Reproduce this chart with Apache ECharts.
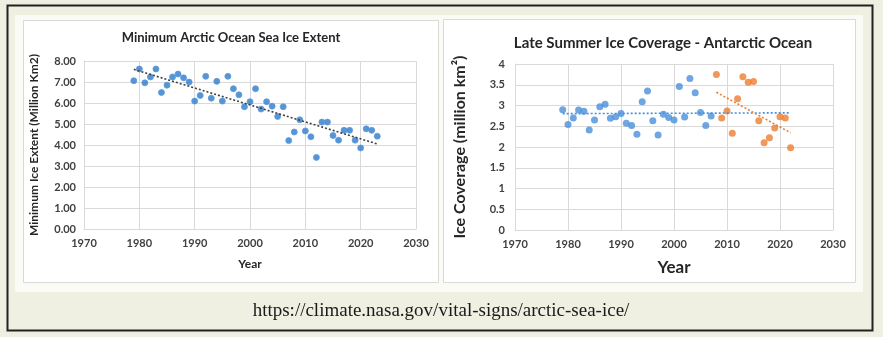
<!DOCTYPE html>
<html>
<head>
<meta charset="utf-8">
<script src="https://cdn.jsdelivr.net/npm/echarts@6/dist/echarts.min.js"></script>
<style>
  html, body { margin: 0; padding: 0; background: #efefe2; }
  #main { width: 883px; height: 337px; }
</style>
</head>
<body>
<div id="main"></div>
<script>
// ---- Data ----
const xTicks = [1970, 1980, 1990, 2000, 2010, 2020, 2030];

const arcticYears = [1979, 1980, 1981, 1982, 1983, 1984, 1985, 1986, 1987, 1988, 1989,
  1990, 1991, 1992, 1993, 1994, 1995, 1996, 1997, 1998, 1999,
  2000, 2001, 2002, 2003, 2004, 2005, 2006, 2007, 2008, 2009,
  2010, 2011, 2012, 2013, 2014, 2015, 2016, 2017, 2018, 2019,
  2020, 2021, 2022, 2023];
const arcticExtent = [7.06, 7.62, 6.96, 7.24, 7.62, 6.50, 6.85, 7.24, 7.38, 7.20, 7.00,
  6.09, 6.36, 7.27, 6.23, 7.03, 6.09, 7.27, 6.68, 6.39, 5.82,
  6.06, 6.68, 5.71, 6.06, 5.85, 5.36, 5.82, 4.21, 4.62, 5.20,
  4.67, 4.39, 3.41, 5.09, 5.09, 4.45, 4.23, 4.70, 4.70, 4.23,
  3.86, 4.77, 4.70, 4.42];

const antarcticYearsEarly = [1979, 1980, 1981, 1982, 1983, 1984, 1985, 1986, 1987, 1988, 1989,
  1990, 1991, 1992, 1993, 1994, 1995, 1996, 1997, 1998, 1999,
  2000, 2001, 2002, 2003, 2004, 2005, 2006, 2007];
const antarcticEarly = [2.90, 2.54, 2.70, 2.89, 2.86, 2.41, 2.65, 2.97, 3.03, 2.69, 2.73,
  2.81, 2.57, 2.52, 2.31, 3.09, 3.35, 2.63, 2.29, 2.79, 2.71,
  2.65, 3.46, 2.72, 3.65, 3.31, 2.83, 2.52, 2.75];

const antarcticYearsLate = [2008, 2009, 2010, 2011, 2012, 2013, 2014, 2015, 2016, 2017,
  2018, 2019, 2020, 2021, 2022];
const antarcticLate = [3.75, 2.70, 2.87, 2.33, 3.16, 3.69, 3.56, 3.58, 2.63, 2.10,
  2.22, 2.46, 2.73, 2.70, 1.98];

// ---- Helpers ----
function pairs(xs, ys) { return xs.map((x, i) => [x, ys[i]]); }
function trend(xs, ys) {
  const n = xs.length;
  const mx = xs.reduce((a, b) => a + b, 0) / n;
  const my = ys.reduce((a, b) => a + b, 0) / n;
  let sxy = 0, sxx = 0;
  for (let i = 0; i < n; i++) { sxy += (xs[i] - mx) * (ys[i] - my); sxx += (xs[i] - mx) ** 2; }
  const b = sxy / sxx, a = my - b * mx;
  const x0 = xs[0], x1 = xs[n - 1];
  return [[x0, a + b * x0], [x1, a + b * x1]];
}

const allAntYears = antarcticYearsEarly.concat(antarcticYearsLate);
const allAnt = antarcticEarly.concat(antarcticLate);

const FONT = 'Lato, "Open Sans", sans-serif';
const LABEL = '#404040';
const GRID = '#d9d9d9';
const BLUE = '#2b7bcc';
const BLUE2 = '#4a90d9';
const ORANGE = '#ed7d31';

function xAxisCfg(gridIndex, gap, nameSize) {
  return {
    gridIndex, type: 'value', min: 1970, max: 2030, interval: 10,
    name: 'Year', nameLocation: 'middle', nameGap: gap,
    nameTextStyle: { fontFamily: FONT, fontWeight: 'bold', fontSize: nameSize, color: '#262626' },
    axisLine: { show: true, lineStyle: { color: GRID } },
    axisTick: { show: false },
    axisLabel: { fontFamily: FONT, fontWeight: 'bold', fontSize: 11, color: LABEL, margin: 9,
      formatter: v => String(v) },
    splitLine: { show: true, lineStyle: { color: GRID } }
  };
}

const chart = echarts.init(document.getElementById('main'), null, { renderer: 'canvas' });
chart.setOption({
  backgroundColor: '#efefe2',
  animation: false,
  grid: [
    { left: 84, top: 61, width: 332, height: 168 },
    { left: 515, top: 64, width: 318, height: 166 }
  ],
  xAxis: [xAxisCfg(0, 29, 12), xAxisCfg(1, 29, 17)],
  yAxis: [
    {
      gridIndex: 0, type: 'value', min: 0, max: 8, interval: 1,
      name: 'Minimum Ice Extent (Million Km2)', nameLocation: 'middle', nameGap: 44, nameRotate: 90,
      nameTextStyle: { fontFamily: FONT, fontWeight: 'bold', fontSize: 12, color: '#262626' },
      axisLine: { show: true, lineStyle: { color: GRID } },
      axisTick: { show: false },
      axisLabel: { fontFamily: FONT, fontWeight: 'bold', fontSize: 11, color: LABEL, margin: 8,
        formatter: v => v.toFixed(2) },
      splitLine: { show: true, lineStyle: { color: GRID } }
    },
    {
      gridIndex: 1, type: 'value', min: 0, max: 4, interval: 0.5,
      name: 'Ice Coverage (million km²)', nameLocation: 'middle', nameGap: 47, nameRotate: 90,
      nameTextStyle: { fontFamily: FONT, fontWeight: 'bold', fontSize: 16, color: '#262626' },
      axisLine: { show: true, lineStyle: { color: GRID } },
      axisTick: { show: false },
      axisLabel: { fontFamily: FONT, fontWeight: 'bold', fontSize: 11, color: LABEL, margin: 10 },
      splitLine: { show: true, lineStyle: { color: GRID } }
    }
  ],
  series: [
    {
      type: 'scatter', xAxisIndex: 0, yAxisIndex: 0, symbolSize: 6,
      itemStyle: { color: BLUE, borderColor: '#5d9bdc', borderWidth: 1 },
      data: pairs(arcticYears, arcticExtent), z: 3
    },
    {
      type: 'line', xAxisIndex: 0, yAxisIndex: 0, symbol: 'none', silent: true,
      lineStyle: { color: '#404040', width: 1.6, type: [2, 2] },
      data: trend(arcticYears, arcticExtent), z: 4
    },
    {
      type: 'scatter', xAxisIndex: 1, yAxisIndex: 1, symbolSize: 7,
      itemStyle: { color: BLUE2 },
      data: pairs(antarcticYearsEarly, antarcticEarly), z: 3
    },
    {
      type: 'scatter', xAxisIndex: 1, yAxisIndex: 1, symbolSize: 7,
      itemStyle: { color: ORANGE },
      data: pairs(antarcticYearsLate, antarcticLate), z: 3
    },
    {
      type: 'line', xAxisIndex: 1, yAxisIndex: 1, symbol: 'none', silent: true,
      lineStyle: { color: BLUE2, width: 1.6, type: [2, 2] },
      data: trend(allAntYears, allAnt), z: 4
    },
    {
      type: 'line', xAxisIndex: 1, yAxisIndex: 1, symbol: 'none', silent: true,
      lineStyle: { color: ORANGE, width: 1.6, type: [2, 2] },
      data: trend(antarcticYearsLate, antarcticLate), z: 4
    }
  ],
  graphic: [
    { type: 'rect', z: -20, silent: true, shape: { x: 7.5, y: 5.5, width: 865, height: 325 },
      style: { fill: '#efefe2', stroke: '#222', lineWidth: 2 } },
    { type: 'rect', z: -19, silent: true, shape: { x: 15, y: 15, width: 848, height: 277 },
      style: { fill: '#fbfbf6' } },
    { type: 'rect', z: -18, silent: true, shape: { x: 23.5, y: 20.5, width: 415, height: 262 },
      style: { fill: '#ffffff', stroke: GRID, lineWidth: 1 } },
    { type: 'rect', z: -18, silent: true, shape: { x: 443.5, y: 19.5, width: 412, height: 263 },
      style: { fill: '#ffffff', stroke: GRID, lineWidth: 1 } },
    { type: 'text', z: 10, silent: true,
      style: { text: 'Minimum Arctic Ocean Sea Ice Extent', x: 231, y: 38, textAlign: 'center', textVerticalAlign: 'middle',
        font: 'bold 13px ' + FONT, fill: '#262626' } },
    { type: 'text', z: 10, silent: true,
      style: { text: 'Late Summer Ice Coverage - Antarctic Ocean', x: 663, y: 43, textAlign: 'center', textVerticalAlign: 'middle',
        font: 'bold 15px ' + FONT, fill: '#262626' } },
    { type: 'text', z: 10, silent: true,
      style: { text: 'https://climate.nasa.gov/vital-signs/arctic-sea-ice/', x: 441, y: 311, textAlign: 'center', textVerticalAlign: 'middle',
        font: '19px "Liberation Serif", serif', fill: '#1a1a1a' } }
  ]
});
</script>
</body>
</html>
